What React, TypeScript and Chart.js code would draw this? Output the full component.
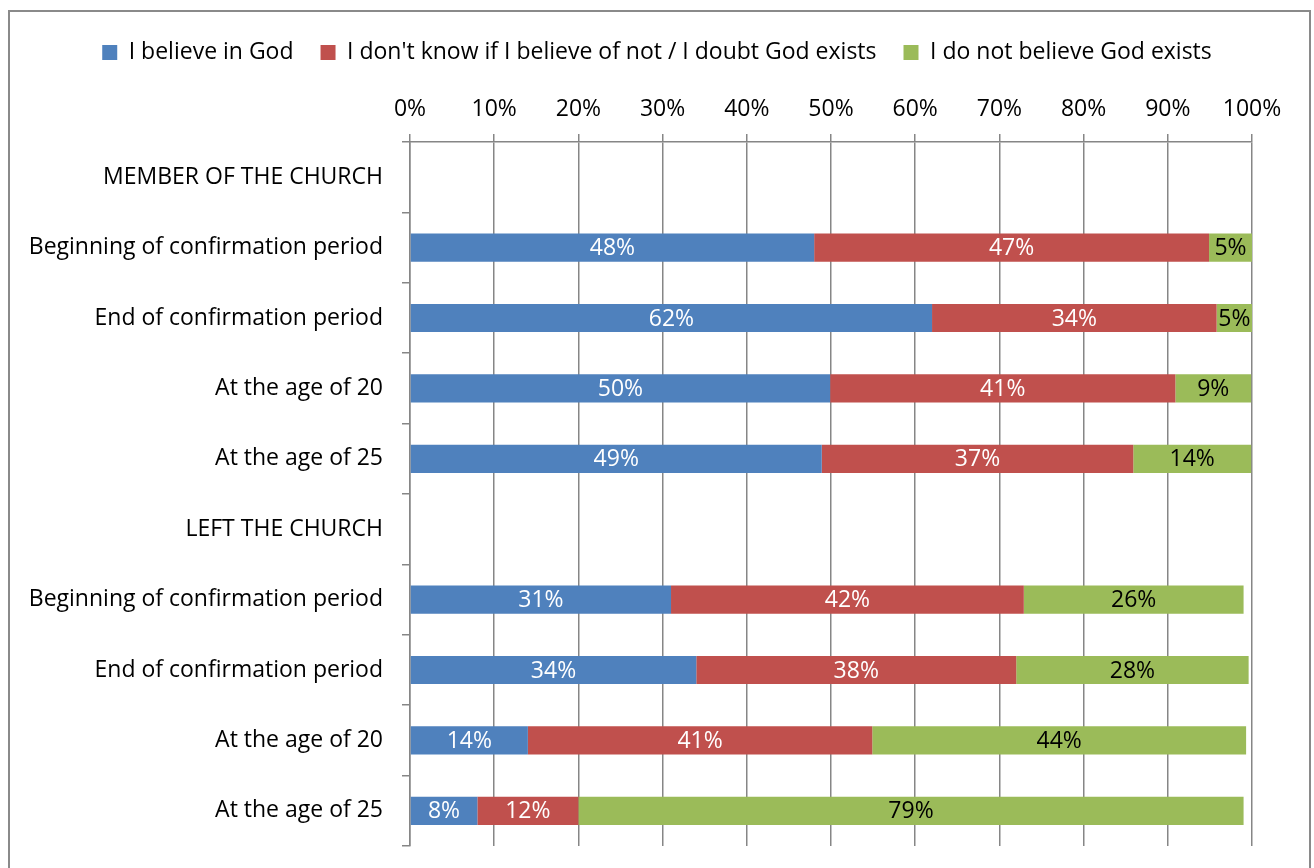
import React, { useEffect, useRef } from "react";
import { Chart, registerables } from "chart.js";

Chart.register(...registerables);

const categories = [
  "MEMBER OF THE CHURCH",
  "Beginning of confirmation period",
  "End of confirmation period",
  "At the age of 20",
  "At the age of 25",
  "LEFT THE CHURCH",
  "Beginning of confirmation period",
  "End of confirmation period",
  "At the age of 20",
  "At the age of 25",
];

const seriesNames = [
  "I believe in God",
  "I don't know if I believe of not / I doubt God exists",
  "I do not believe God exists",
];

const believe = [null, 48.0, 62.0, 49.9, 48.9, null, 31.0, 34.0, 14.0, 8.0];
const doubt = [null, 46.9, 33.8, 41.0, 37.0, null, 41.9, 38.0, 40.9, 12.0];
const notBelieve = [null, 5.1, 4.6, 9.0, 14.0, null, 26.1, 27.6, 44.4, 79.0];

const xTicks = [0, 10, 20, 30, 40, 50, 60, 70, 80, 90, 100];

const FONT = "'Open Sans', sans-serif";
const FS = 23;
const GRID = "#868686";

const barLabels = {
  id: "barLabels",
  afterDatasetsDraw(chart: any) {
    const ctx = chart.ctx;
    const area = chart.chartArea;
    ctx.save();
    ctx.font = `${FS}px ${FONT}`;
    ctx.textAlign = "center";
    ctx.textBaseline = "middle";
    chart.data.datasets.forEach((ds: any, i: number) => {
      const meta = chart.getDatasetMeta(i);
      meta.data.forEach((el: any, j: number) => {
        const v = ds.data[j];
        if (v == null) return;
        const x1 = Math.min(el.x, area.right);
        const x0 = Math.max(el.base, area.left);
        ctx.fillStyle = ds.labelColor;
        ctx.fillText(Math.round(v) + "%", (x0 + x1) / 2, el.y + 1);
      });
    });
    ctx.restore();
  },
};

const legendHeight = {
  id: "legendHeight",
  beforeInit(chart: any) {
    const lg = chart.legend;
    if (!lg) return;
    const orig = lg.fit;
    lg.fit = function () {
      orig.call(this);
      this.height = 76;
    };
  },
};

export default function App() {
  const ref = useRef<HTMLCanvasElement | null>(null);
  useEffect(() => {
    if (!ref.current) return;
    const chart = new Chart(ref.current, {
      type: "bar",
      data: {
        labels: categories,
        datasets: [
          { label: seriesNames[0], data: believe, backgroundColor: "#4F81BD", labelColor: "#ffffff" } as any,
          { label: seriesNames[1], data: doubt, backgroundColor: "#C0504D", labelColor: "#ffffff" } as any,
          { label: seriesNames[2], data: notBelieve, backgroundColor: "#9BBB59", labelColor: "#000000" } as any,
        ],
      },
      options: {
        indexAxis: "y",
        responsive: false,
        animation: false,
        devicePixelRatio: 1,
        layout: { autoPadding: false, padding: { top: 14, left: 0, right: 0, bottom: 22 } },
        datasets: { bar: { barPercentage: 0.4, categoryPercentage: 1 } },
        plugins: {
          tooltip: { enabled: false },
          legend: {
            position: "top",
            align: "center",
            labels: {
              boxWidth: 15,
              boxHeight: 15,
              padding: 27,
              color: "#000",
              font: { family: FONT, size: FS },
            },
          },
        },
        scales: {
          x: {
            type: "linear",
            position: "top",
            stacked: true,
            min: 0,
            max: 100,
            afterBuildTicks: (s: any) => {
              s.ticks = xTicks.map((v) => ({ value: v }));
            },
            afterFit: (s: any) => {
              s.height = 52;
            },
            ticks: {
              callback: (v: any) => v + "%",
              color: "#000",
              padding: 11,
              font: { family: FONT, size: FS },
              maxRotation: 0,
            },
            grid: { color: GRID, lineWidth: 1.5, tickLength: 8, drawTicks: true },
            border: { display: true, color: GRID, width: 1.5 },
          },
          y: {
            type: "category",
            position: "left",
            stacked: true,
            afterFit: (s: any) => {
              s.width = 410;
              s.paddingTop = 0;
              s.paddingBottom = 0;
            },
            ticks: {
              color: "#000",
              padding: 19,
              font: { family: FONT, size: FS },
              autoSkip: false,
            },
            grid: { drawOnChartArea: false, color: GRID, lineWidth: 1.5, tickLength: 8, offset: true },
            border: { display: true, color: GRID, width: 1.5 },
          },
          yRight: {
            type: "category",
            position: "right",
            afterFit: (s: any) => {
              s.width = 62;
              s.paddingTop = 0;
              s.paddingBottom = 0;
            },
            ticks: { display: false },
            grid: { display: false },
            border: { display: false },
          },
        },
      },
      plugins: [barLabels, legendHeight],
    } as any);
    return () => chart.destroy();
  }, []);

  return (
    <div style={{ position: "fixed", left: 0, top: 0, width: 1314, height: 868, overflow: "hidden", background: "#fff" }}>
      <div
        style={{
          position: "absolute",
          left: 8,
          top: 10,
          width: 1303,
          height: 900,
          border: "2px solid #8a8a8a",
          boxSizing: "border-box",
        }}
      />
      <canvas ref={ref} width={1314} height={868} style={{ position: "absolute", left: 0, top: 0 }} />
    </div>
  );
}
